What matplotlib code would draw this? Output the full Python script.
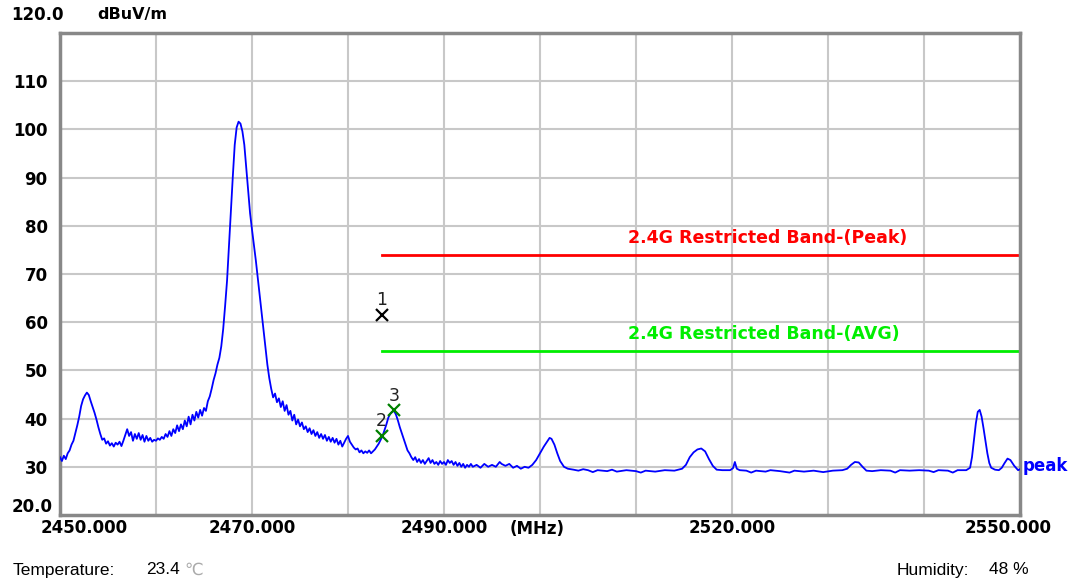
import matplotlib
matplotlib.use("Agg")
import matplotlib.pyplot as plt
from matplotlib.transforms import ScaledTranslation

plt.rcParams["font.family"] = ["DejaVu Sans"]

# sweep trace, MHz / dBuV/m
freq_mhz = [
    2450.0, 2450.2, 2450.4, 2450.6, 2450.8, 2451.0, 2451.2, 2451.4, 2451.6, 2451.8,
    2452.0, 2452.2, 2452.4, 2452.6, 2452.8, 2453.0, 2453.2, 2453.4, 2453.6, 2453.8,
    2454.0, 2454.2, 2454.4, 2454.6, 2454.8, 2455.0, 2455.2, 2455.4, 2455.6, 2455.8,
    2456.0, 2456.2, 2456.4, 2456.6, 2456.8, 2457.0, 2457.2, 2457.4, 2457.6, 2457.8,
    2458.0, 2458.2, 2458.4, 2458.6, 2458.8, 2459.0, 2459.2, 2459.4, 2459.6, 2459.8,
    2460.0, 2460.2, 2460.4, 2460.6, 2460.8, 2461.0, 2461.2, 2461.4, 2461.6, 2461.8,
    2462.0, 2462.2, 2462.4, 2462.6, 2462.8, 2463.0, 2463.2, 2463.4, 2463.6, 2463.8,
    2464.0, 2464.2, 2464.4, 2464.6, 2464.8, 2465.0, 2465.2, 2465.4, 2465.6, 2465.8,
    2466.0, 2466.2, 2466.4, 2466.6, 2466.8, 2467.0, 2467.2, 2467.4, 2467.6, 2467.8,
    2468.0, 2468.2, 2468.4, 2468.6, 2468.8, 2469.0, 2469.2, 2469.4, 2469.6, 2469.8,
    2470.0, 2470.2, 2470.4, 2470.6, 2470.8, 2471.0, 2471.2, 2471.4, 2471.6, 2471.8,
    2472.0, 2472.2, 2472.4, 2472.6, 2472.8, 2473.0, 2473.2, 2473.4, 2473.6, 2473.8,
    2474.0, 2474.2, 2474.4, 2474.6, 2474.8, 2475.0, 2475.2, 2475.4, 2475.6, 2475.8,
    2476.0, 2476.2, 2476.4, 2476.6, 2476.8, 2477.0, 2477.2, 2477.4, 2477.6, 2477.8,
    2478.0, 2478.2, 2478.4, 2478.6, 2478.8, 2479.0, 2479.2, 2479.4, 2479.6, 2479.8,
    2480.0, 2480.2, 2480.4, 2480.6, 2480.8, 2481.0, 2481.2, 2481.4, 2481.6, 2481.8,
    2482.0, 2482.2, 2482.4, 2482.6, 2482.8, 2483.0, 2483.2, 2483.4, 2483.6, 2483.8,
    2484.0, 2484.2, 2484.4, 2484.6, 2484.8, 2485.0, 2485.2, 2485.4, 2485.6, 2485.8,
    2486.0, 2486.2, 2486.4, 2486.6, 2486.8, 2487.0, 2487.2, 2487.4, 2487.6, 2487.8,
    2488.0, 2488.2, 2488.4, 2488.6, 2488.8, 2489.0, 2489.2, 2489.4, 2489.6, 2489.8,
    2490.0, 2490.2, 2490.4, 2490.6, 2490.8, 2491.0, 2491.2, 2491.4, 2491.6, 2491.8,
    2492.0, 2492.2, 2492.4, 2492.6, 2492.8, 2493.0, 2493.4, 2493.8, 2494.2, 2494.6,
    2495.0, 2495.4, 2495.8, 2496.0, 2496.4, 2496.8, 2497.2, 2497.6, 2498.0, 2498.4,
    2498.8, 2499.2, 2499.6, 2500.0, 2500.4, 2500.8, 2501.0, 2501.2, 2501.5, 2501.8,
    2502.1, 2502.5, 2502.9, 2503.5, 2504.0, 2504.5, 2505.0, 2505.5, 2506.0, 2507.0,
    2507.5, 2508.0, 2509.0, 2510.0, 2510.5, 2511.0, 2512.0, 2513.0, 2514.0, 2514.8,
    2515.2, 2515.6, 2516.0, 2516.4, 2516.8, 2517.2, 2517.6, 2518.0, 2518.4, 2519.0,
    2519.8, 2520.1, 2520.3, 2520.5, 2520.8, 2521.5, 2522.0, 2522.5, 2523.5, 2524.0,
    2525.0, 2526.0, 2526.5, 2527.5, 2528.5, 2529.5, 2530.5, 2531.5, 2532.0, 2532.4,
    2532.8, 2533.2, 2533.6, 2534.0, 2534.6, 2535.5, 2536.5, 2537.0, 2537.5, 2538.5,
    2539.5, 2540.5, 2541.0, 2541.5, 2542.5, 2543.0, 2543.5, 2544.4, 2544.8, 2545.0,
    2545.2, 2545.4, 2545.6, 2545.8, 2546.0, 2546.2, 2546.4, 2546.6, 2546.8, 2547.0,
    2547.4, 2547.8, 2548.1, 2548.4, 2548.7, 2549.0, 2549.4, 2549.8, 2550.0,
]
level_dbuv = [
    32.0, 31.2, 32.3, 31.6, 32.8, 33.4, 34.6, 35.4, 37.0, 38.6,
    40.4, 42.6, 44.0, 44.8, 45.4, 44.9, 43.6, 42.4, 41.2, 39.8,
    38.2, 36.8, 35.6, 35.9, 34.8, 35.3, 34.4, 34.9, 34.2, 35.0,
    34.6, 35.2, 34.3, 35.4, 36.6, 37.8, 36.4, 37.2, 35.4, 36.8,
    35.8, 37.0, 35.6, 36.6, 35.2, 36.4, 35.4, 36.0, 35.2, 35.6,
    35.4, 35.9, 35.6, 36.2, 35.8, 36.8, 36.2, 37.4, 36.4, 37.8,
    37.0, 38.6, 37.4, 38.8, 37.8, 39.6, 38.4, 40.4, 38.8, 40.8,
    39.6, 41.4, 40.2, 41.8, 40.6, 42.2, 41.6, 43.6, 44.6, 46.2,
    48.0, 49.4, 51.2, 52.6, 55.0, 58.6, 63.4, 68.6, 75.8, 82.8,
    90.2, 96.8, 100.4, 101.6, 101.2, 99.6, 96.8, 92.0, 87.0, 82.6,
    79.2, 76.0, 72.8, 69.2, 65.8, 62.0, 58.2, 54.6, 51.2, 48.4,
    46.2, 44.4, 45.2, 43.4, 44.2, 42.4, 43.6, 41.6, 42.8, 40.8,
    41.6, 39.6, 40.8, 38.8, 39.8, 38.4, 39.2, 37.8, 38.4, 37.2,
    38.0, 36.8, 37.6, 36.4, 37.2, 36.0, 36.8, 35.8, 36.6, 35.4,
    36.2, 35.2, 36.0, 35.0, 35.8, 34.6, 35.4, 34.2, 35.0, 35.8,
    36.4, 35.2, 34.6, 34.0, 33.6, 33.8, 33.0, 33.4, 32.8, 33.2,
    32.9, 33.4, 32.8, 33.2, 33.6, 34.2, 34.8, 35.6, 36.4, 37.6,
    38.8, 40.2, 41.0, 41.4, 41.6, 40.8, 39.6, 38.2, 37.0, 35.8,
    34.6, 33.4, 32.8, 32.0, 31.4, 32.0, 31.0, 31.6, 30.8, 31.4,
    30.6, 31.2, 31.8, 30.8, 31.4, 30.6, 31.0, 30.4, 31.2, 30.6,
    31.0, 30.4, 31.4, 30.8, 31.2, 30.4, 31.0, 30.2, 30.8, 30.0,
    30.6, 29.8, 30.4, 30.0, 30.6, 30.0, 30.4, 29.8, 30.6, 30.0,
    30.4, 30.0, 31.0, 30.6, 30.2, 30.6, 29.8, 30.2, 29.6, 30.0,
    29.8, 30.4, 31.4, 32.8, 34.2, 35.4, 36.0, 35.8, 34.6, 32.8,
    31.2, 30.0, 29.6, 29.4, 29.2, 29.5, 29.3, 28.9, 29.3, 29.1,
    29.4, 29.0, 29.3, 29.1, 28.8, 29.2, 29.0, 29.3, 29.2, 29.6,
    30.4, 32.0, 33.0, 33.6, 33.8, 33.2, 31.6, 30.2, 29.4, 29.3,
    29.3, 29.7, 31.0, 29.6, 29.3, 29.2, 28.8, 29.2, 29.0, 29.3,
    29.1, 28.8, 29.2, 29.0, 29.2, 28.9, 29.2, 29.3, 29.6, 30.4,
    31.0, 30.9, 30.0, 29.2, 29.1, 29.3, 29.2, 28.8, 29.3, 29.2,
    29.3, 29.2, 28.9, 29.3, 29.2, 28.8, 29.3, 29.3, 29.8, 32.0,
    35.6, 39.0, 41.4, 41.8, 40.4, 38.0, 35.4, 32.8, 30.8, 29.8,
    29.4, 29.3, 29.8, 30.8, 31.7, 31.4, 30.2, 29.3, 29.5,
]

# limit lines
limit_start = 2483.5
limit_stop = 2550.0
peak_limit = 74.0
avg_limit = 54.0

# markers: number, freq, level, colour
marker_ids = ["1", "2", "3"]
marker_freq = [2483.5, 2483.5, 2484.8]
marker_level = [61.5, 36.4, 41.7]
marker_color = ["black", "#008000", "#008000"]

x_ticks = [2450, 2470, 2490, 2520, 2550]
x_tick_labels = ["2450.000", "2470.000", "2490.000", "2520.000", "2550.000"]
y_ticks = [30, 40, 50, 60, 70, 80, 90, 100, 110]

fig = plt.figure(figsize=(10.73, 5.84), dpi=100)
ax = fig.add_axes([60 / 1073, 1 - 515 / 584, 960 / 1073, 482 / 584])

ax.set_xlim(2450, 2550)
ax.set_ylim(20, 120)

# grid every 10 MHz / 10 dB
for f in range(2460, 2550, 10):
    ax.axvline(f, color="#c8c8c8", lw=1.5, zorder=0)
for lv in range(30, 120, 10):
    ax.axhline(lv, color="#c8c8c8", lw=1.5, zorder=0)

ax.plot(freq_mhz, level_dbuv, color="#0000ff", lw=1.3, zorder=3)

ax.plot([limit_start, limit_stop], [peak_limit, peak_limit], color="#ff0000", lw=2, zorder=2)
ax.plot([limit_start, limit_stop], [avg_limit, avg_limit], color="#00ee00", lw=2, zorder=2)
ax.text(2509.2, peak_limit + 1.6, "2.4G Restricted Band-(Peak)", color="#ff0000",
        fontsize=12.5, fontweight="bold", va="bottom", ha="left")
ax.text(2509.2, avg_limit + 1.6, "2.4G Restricted Band-(AVG)", color="#00ee00",
        fontsize=12.5, fontweight="bold", va="bottom", ha="left")

for mid, mf, ml, mc in zip(marker_ids, marker_freq, marker_level, marker_color):
    ax.plot(mf, ml, marker="x", ms=9, mew=1.6, color=mc, zorder=4)
    ax.text(mf, ml + 1.2, mid, color="#222222", fontsize=12.5, ha="center", va="bottom")

ax.set_xticks(x_ticks)
ax.set_xticklabels(x_tick_labels)
ax.set_yticks(y_ticks)
ax.tick_params(axis="x", length=0, labelsize=12, pad=3)
ax.tick_params(axis="y", length=0, labelsize=12, pad=9)
for lab in ax.get_xticklabels() + ax.get_yticklabels():
    lab.set_fontweight("bold")

# end labels pulled inward so they stay on the canvas
xlabs = ax.get_xticklabels()
xlabs[0].set_transform(xlabs[0].get_transform() + ScaledTranslation(0.24, 0, fig.dpi_scale_trans))
xlabs[-1].set_transform(xlabs[-1].get_transform() + ScaledTranslation(-0.12, 0, fig.dpi_scale_trans))

for sp in ax.spines.values():
    sp.set_color("#888888")
    sp.set_linewidth(2.5)

# extra axis texts
fig.text(37 / 1073, 1 - 15 / 584, "120.0", fontsize=12, fontweight="bold",
         ha="center", va="center")
fig.text(32 / 1073, 1 - 507 / 584, "20.0", fontsize=12, fontweight="bold",
         ha="center", va="center")
fig.text(97 / 1073, 1 - 14 / 584, "dBuV/m", fontsize=11.5, fontweight="bold",
         ha="left", va="center")
fig.text(510 / 1073, 1 - 529 / 584, "(MHz)", fontsize=12, fontweight="bold",
         ha="left", va="center")
ax.text(2550.3, 30.2, "peak", color="#0000ff", fontsize=12, fontweight="bold",
        ha="left", va="center", clip_on=False)

info_font = ["Liberation Sans", "DejaVu Sans"]
fig.text(13 / 1073, 1 - 570 / 584, "Temperature:", fontsize=12.5, family=info_font,
         ha="left", va="center")
fig.text(146 / 1073, 1 - 570 / 584, "23.4", fontsize=12.5, family=info_font,
         ha="left", va="center")
fig.text(184 / 1073, 1 - 570 / 584, "\u2103", fontsize=12, color="#aaaaaa",
         ha="left", va="center")
fig.text(897 / 1073, 1 - 570 / 584, "Humidity:", fontsize=12.5, family=info_font,
         ha="left", va="center")
fig.text(989 / 1073, 1 - 570 / 584, "48 %", fontsize=12.5, family=info_font,
         ha="left", va="center")

fig.savefig("out.png", dpi=100)
